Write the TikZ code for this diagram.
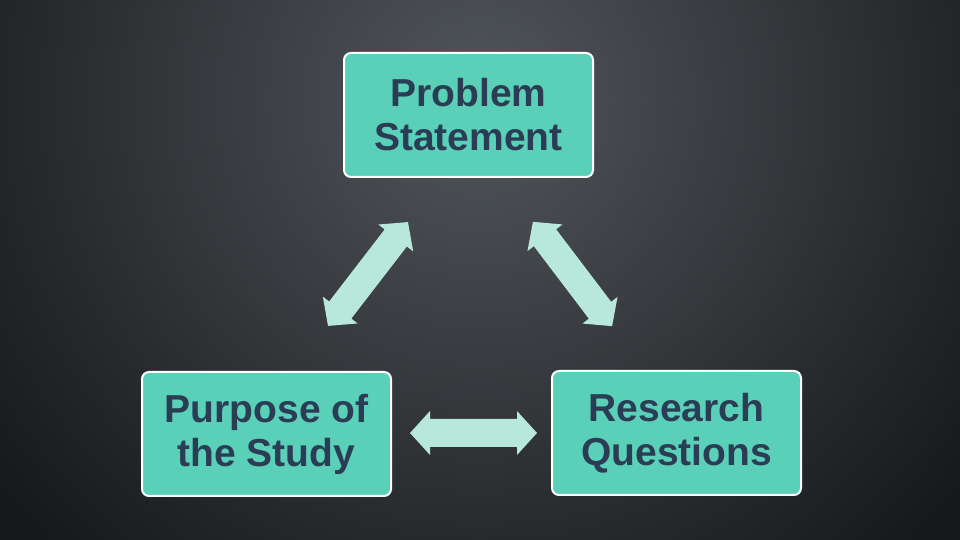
\documentclass[tikz,border=0pt]{standalone}
\usepackage{fontspec}
\setmainfont{Liberation Sans}
\begin{document}
\begin{tikzpicture}[x=1pt,y=1pt,
  boxst/.style={draw=white,line width=2pt,fill=boxfill,rounded corners=7pt,minimum width=249pt,minimum height=124pt,align=center,font=\bfseries\fontsize{39}{44}\selectfont,text=txtcol,inner sep=2pt},
  arr/.style={fill=arrfill}]
\definecolor{boxfill}{HTML}{5BD0B8}
\definecolor{txtcol}{HTML}{2B3D55}
\definecolor{arrfill}{HTML}{B8E8DA}
\definecolor{bgin}{HTML}{51565B}
\definecolor{bgout}{HTML}{16181A}
\useasboundingbox (0,0) rectangle (960,540);
\fill[bgout] (0,0) rectangle (960,540);
\shade[inner color=bgin,outer color=bgout] (480,440) circle (620);
\newcommand{\dblarr}[4]{%
 \begin{scope}[shift={(#1,#2)},rotate=#3]
 \fill[arr] (-#4/2,0) -- (-#4/2+20,22) -- (-#4/2+20,14) -- (#4/2-20,14) -- (#4/2-20,22) -- (#4/2,0) -- (#4/2-20,-22) -- (#4/2-20,-14) -- (-#4/2+20,-14) -- (-#4/2+20,-22) -- cycle;
 \end{scope}}
\node[boxst] (ps) at (468.5,425) {Problem\\Statement};
\node[boxst] (pu) at (266.5,106) {Purpose of\\the Study};
\node[boxst] (rq) at (676.5,107) {Research\\Questions};
\dblarr{368}{266}{52.4}{131}
\dblarr{572.5}{266}{-52.8}{131}
\dblarr{473.5}{107}{0}{127}
\end{tikzpicture}
\end{document}
